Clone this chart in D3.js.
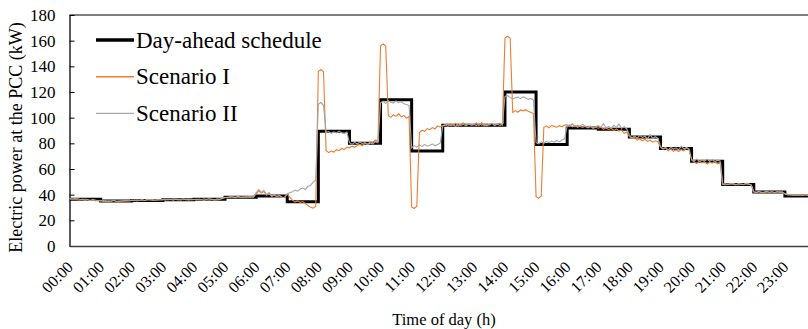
<!DOCTYPE html>
<html>
<head>
<meta charset="utf-8">
<script src="https://cdn.jsdelivr.net/npm/d3@7"></script>
<style>
  body { margin: 0; background: #fff; }
  svg text { font-family: "Liberation Serif", "Times New Roman", serif; }
</style>
</head>
<body>
<script>
const width = 808, height = 329
const margin = {top: 15, left: 69.5, bottom: 83}
const plotRight = 816   // the chart runs past the right edge of the picture
const serif = '"Liberation Serif", "Times New Roman", serif'

// hourly day-ahead schedule (kW), hours 0..23
const schedule = [36.5, 35, 35.5, 36, 36.5, 38, 39, 34.5, 89.5, 80, 114, 74,
                  94, 94, 120, 79, 92, 91, 85, 76, 66, 48, 42, 39]

// measured power, one value every 5 minutes (12 per hour)
const scenario1 = [
  36.5, 36.8, 36.2, 37.0, 36.4, 35.9, 36.6, 36.1, 35.5, 36.3, 35.8, 35.2,   // 00
  35.6, 34.8, 35.3, 34.6, 35.0, 35.4, 34.7, 35.1, 34.9, 35.5, 35.0, 35.3,   // 01
  35.4, 35.9, 35.2, 35.7, 36.0, 35.5, 35.8, 36.2, 35.6, 36.0, 35.7, 36.1,   // 02
  36.3, 35.8, 36.5, 36.0, 36.7, 36.2, 35.9, 36.6, 36.1, 36.4, 35.8, 36.3,   // 03
  36.0, 36.5, 35.9, 36.3, 36.8, 36.1, 35.7, 36.4, 36.2, 35.8, 36.6, 37.2,   // 04
  37.6, 38.2, 37.8, 38.4, 37.9, 38.3, 38.0, 37.7, 38.5, 38.1, 37.8, 38.6,   // 05
  40.5, 43.0, 41.2, 42.5, 39.6, 40.8, 38.7, 39.5, 38.4, 39.2, 38.0, 37.6,   // 06
  40.5, 38.0, 35.8, 34.2, 35.1, 34.0, 34.6, 33.1, 31.5, 30.2, 29.5, 30.8,   // 07
  136.0, 137.5, 135.8, 74.5, 72.8, 74.0, 73.2, 75.1, 74.3, 76.0, 75.2, 77.0, // 08
  76.5, 77.8, 76.9, 78.5, 79.2, 78.1, 80.0, 79.4, 81.2, 80.5, 82.6, 81.8,   // 09
  156.0, 157.5, 155.8, 101.5, 100.2, 102.3, 101.0, 103.1, 100.6, 101.8, 99.5, 100.9, // 10
  30.5, 29.2, 31.0, 88.5, 90.2, 89.4, 91.5, 90.6, 92.3, 91.2, 93.5, 92.8,   // 11
  93.8, 94.6, 93.2, 95.1, 94.0, 95.6, 93.5, 94.8, 96.0, 94.3, 95.2, 94.1,   // 12
  94.5, 95.8, 94.0, 96.2, 93.6, 95.0, 94.4, 95.5, 93.8, 94.9, 95.6, 94.2,   // 13
  162.0, 163.5, 161.8, 104.0, 105.5, 104.2, 106.0, 105.3, 106.2, 105.0, 104.1, 103.2, // 14
  38.5, 37.2, 39.0, 92.5, 93.6, 92.1, 94.0, 93.2, 92.6, 93.8, 92.9, 94.2,   // 15
  94.5, 93.6, 95.2, 92.8, 94.0, 93.1, 92.5, 93.4, 92.0, 93.0, 91.6, 92.5,   // 16
  91.8, 92.6, 91.0, 92.2, 90.8, 91.5, 90.2, 91.3, 89.6, 90.5, 87.8, 88.9,   // 17
  85.2, 83.8, 84.6, 82.5, 83.6, 82.0, 83.2, 81.5, 82.4, 80.9, 82.0, 81.2,   // 18
  77.0, 75.5, 76.3, 74.2, 75.6, 73.8, 74.9, 73.5, 75.2, 74.0, 76.5, 75.1,   // 19
  67.0, 65.5, 64.2, 66.0, 64.8, 65.5, 63.9, 65.2, 64.6, 65.8, 64.1, 65.0,   // 20
  48.2, 47.6, 48.5, 47.9, 48.8, 48.1, 47.5, 48.3, 47.8, 48.6, 48.0, 47.7,   // 21
  42.0, 41.6, 42.3, 41.8, 41.4, 42.1, 41.7, 42.2, 41.5, 41.9, 42.4, 41.8,   // 22
  40.8, 40.2, 39.6, 40.1, 39.4, 39.8, 39.2, 39.7, 40.0, 39.3, 39.6, 39.1    // 23
]
const scenario2 = [
  37.0, 36.4, 37.2, 36.1, 35.8, 36.5, 35.6, 36.2, 35.4, 35.9, 35.1, 35.6,   // 00
  34.9, 35.5, 34.5, 35.2, 34.8, 35.6, 35.0, 34.6, 35.3, 34.9, 35.6, 35.1,   // 01
  35.7, 35.3, 36.0, 35.6, 35.9, 35.4, 36.3, 35.8, 36.1, 35.5, 36.2, 35.9,   // 02
  36.0, 36.6, 35.9, 36.4, 35.8, 36.5, 36.2, 35.7, 36.8, 36.0, 36.5, 36.1,   // 03
  36.4, 35.9, 36.6, 36.0, 35.6, 36.5, 36.9, 36.2, 35.8, 36.7, 36.3, 37.0,   // 04
  38.0, 37.6, 38.5, 38.1, 37.7, 38.6, 37.9, 38.4, 37.8, 38.3, 38.7, 38.0,   // 05
  41.5, 44.0, 42.0, 43.2, 40.1, 41.6, 39.0, 40.2, 38.6, 39.5, 37.8, 38.2,   // 06
  40.8, 41.5, 42.2, 43.6, 42.8, 44.5, 45.2, 44.0, 46.5, 47.3, 49.8, 51.5,   // 07
  110.5, 111.8, 109.6, 88.5, 89.2, 87.8, 88.9, 88.1, 89.5, 88.3, 87.6, 88.8, // 08
  80.5, 79.2, 80.8, 79.5, 81.0, 79.8, 80.6, 79.0, 80.3, 79.6, 81.2, 80.4,   // 09
  111.5, 112.8, 111.0, 113.2, 112.0, 111.4, 113.0, 111.8, 112.4, 110.9, 110.2, 109.5, // 10
  76.5, 78.2, 77.0, 78.8, 77.4, 79.2, 77.8, 78.5, 79.6, 78.1, 79.0, 80.2,   // 11
  93.5, 94.2, 95.0, 93.8, 94.6, 93.1, 95.3, 94.0, 94.8, 93.6, 95.1, 94.4,   // 12
  94.8, 93.9, 95.4, 94.2, 95.0, 93.7, 94.6, 95.8, 94.1, 95.2, 93.9, 94.7,   // 13
  116.5, 117.2, 115.8, 114.6, 115.5, 116.0, 114.8, 116.2, 115.4, 114.2, 115.0, 113.8, // 14
  80.5, 79.6, 81.2, 80.0, 81.5, 80.6, 81.8, 80.9, 82.1, 81.3, 82.6, 83.5,   // 15
  93.5, 94.4, 92.8, 93.9, 92.5, 93.6, 94.8, 93.0, 92.4, 93.5, 92.2, 93.1,   // 16
  93.8, 92.4, 95.5, 92.0, 93.2, 91.5, 94.0, 92.3, 95.0, 91.8, 92.9, 91.2,   // 17
  86.5, 84.2, 85.8, 83.9, 86.2, 84.6, 85.5, 83.5, 86.8, 84.0, 85.2, 83.8,   // 18
  77.5, 75.8, 76.9, 74.8, 77.2, 75.4, 76.5, 74.9, 77.8, 75.6, 76.8, 75.5,   // 19
  67.5, 66.2, 67.8, 65.9, 67.0, 66.4, 67.6, 66.0, 67.2, 65.8, 66.9, 66.3,   // 20
  48.0, 48.6, 47.8, 48.9, 48.2, 47.6, 48.7, 48.3, 47.9, 48.8, 48.4, 47.5,   // 21
  42.2, 41.8, 42.5, 41.6, 42.0, 42.6, 41.9, 42.3, 41.7, 42.4, 41.5, 42.1,   // 22
  40.5, 39.8, 40.2, 39.5, 40.0, 39.6, 40.3, 39.4, 39.9, 39.7, 40.1, 39.5    // 23
]

const yTicks = [0, 20, 40, 60, 80, 100, 120, 140, 160, 180]
const hourLabels = d3.range(24).map(h => String(h).padStart(2, '0') + ':00')

const seriesNames = ['Day-ahead schedule', 'Scenario I', 'Scenario II']
const seriesColors = ['#000000', '#ED7D31', '#A5A5A5']
const seriesWidths = [3, 1.1, 1.1]

const svg = d3.select('body').append('svg')
    .attr('width', width)
    .attr('height', height)

const x = d3.scaleLinear().domain([0, 24]).range([margin.left, plotRight])
const y = d3.scaleLinear().domain([0, 180]).range([height - margin.bottom, margin.top])

// top border of the plot
svg.append('line')
    .attr('x1', margin.left).attr('x2', plotRight)
    .attr('y1', y(180)).attr('y2', y(180))
    .attr('stroke', '#000').attr('stroke-width', 1)

// y axis, ticks pointing inward
const gY = svg.append('g')
    .attr('transform', `translate(${margin.left},0)`)
    .call(d3.axisLeft(y).tickValues(yTicks).tickSize(-5).tickPadding(14).tickSizeOuter(0))
gY.attr('font-family', serif)
gY.select('.domain').attr('stroke', '#000').attr('stroke-width', 1.3)
gY.selectAll('.tick line').attr('stroke', '#000')
gY.selectAll('.tick text')
    .attr('font-size', 17).attr('fill', '#000')

// x axis, labels turned 45 degrees
const gX = svg.append('g')
    .attr('transform', `translate(0,${y(0)})`)
    .call(d3.axisBottom(x).tickValues(d3.range(24)).tickFormat(h => hourLabels[h]).tickSize(0).tickSizeOuter(0))
gX.attr('font-family', serif)
gX.select('.domain').attr('stroke', '#404040').attr('stroke-width', 1.6)
gX.selectAll('.tick text')
    .attr('font-size', 16).attr('fill', '#000')
    .attr('text-anchor', 'end')
    .attr('y', 0).attr('dy', 0)
    .attr('transform', 'translate(4,22) rotate(-45)')

// axis titles
svg.append('text')
    .attr('transform', `translate(22,${(y(0) + y(180)) / 2 + 7}) rotate(-90)`)
    .attr('text-anchor', 'middle')
    .attr('font-family', serif)
    .attr('font-size', 18)
    .text('Electric power at the PCC (kW)')

svg.append('text')
    .attr('x', 444).attr('y', 325)
    .attr('text-anchor', 'middle')
    .attr('font-family', serif)
    .attr('font-size', 16.5)
    .text('Time of day (h)')

// lines
const stepLine = d3.line()
    .x(d => x(d[0]))
    .y(d => y(d[1]))
    .curve(d3.curveStepAfter)

const schedPts = schedule.map((v, i) => [i, v]).concat([[24, schedule[23]]])

const fineLine = d3.line()
    .x((d, i) => x(i / 12))
    .y(d => y(d))

svg.append('path')
    .datum(schedPts)
    .attr('d', stepLine)
    .attr('fill', 'none')
    .attr('stroke', seriesColors[0])
    .attr('stroke-width', seriesWidths[0])

svg.append('path')
    .datum(scenario1)
    .attr('d', fineLine)
    .attr('fill', 'none')
    .attr('stroke', seriesColors[1])
    .attr('stroke-width', seriesWidths[1])

svg.append('path')
    .datum(scenario2)
    .attr('d', fineLine)
    .attr('fill', 'none')
    .attr('stroke', seriesColors[2])
    .attr('stroke-width', seriesWidths[2])

// legend
const legend = svg.append('g').attr('transform', 'translate(96,40)')
seriesNames.forEach((name, i) => {
  const g = legend.append('g').attr('transform', `translate(0,${i * 36.7})`)
  g.append('line')
      .attr('x1', 0).attr('x2', 38)
      .attr('stroke', seriesColors[i])
      .attr('stroke-width', seriesWidths[i] + (i ? 0.3 : 0.5))
  g.append('text')
      .attr('x', 40).attr('y', 7.5)
      .attr('font-family', serif)
      .attr('font-size', 23)
      .text(name)
})
</script>
</body>
</html>
